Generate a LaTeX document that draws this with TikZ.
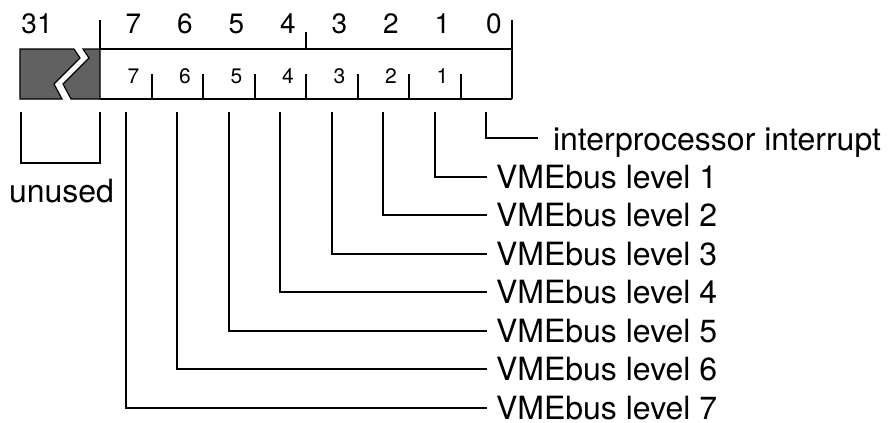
\documentclass[tikz,border=0pt]{standalone}
\usepackage{fontspec}
\setmainfont{TeX Gyre Heros}
\begin{document}
\begin{tikzpicture}[x=1pt,y=-1pt,line width=2pt,
  biglabel/.style={font=\fontsize{32}{32}\selectfont, inner sep=0pt, anchor=base west},
  toplabel/.style={font=\fontsize{28}{28}\selectfont, inner sep=0pt, anchor=base},
  innerlabel/.style={font=\fontsize{21}{21}\selectfont, inner sep=0pt, anchor=base},
  hatch/.style={fill=black!62, draw=black, line width=1.2pt, line join=miter},
  wire/.style={line width=2pt, line join=miter}]
\useasboundingbox (0,0) rectangle (889,423);
% hatched (unused) part with break
\path[hatch] (20,49) -- (74,49) -- (80,58) -- (54,84) -- (62,99) -- (20,99) -- cycle;
\path[hatch] (83,49) -- (100,49) -- (100,99) -- (71,99) -- (63,84) -- (89,58) -- cycle;
% register box
\draw[wire] (100,20) -- (100,49) -- (512,49);
\draw[wire] (100,99) -- (512,99);
\draw[wire] (512,20) -- (512,99);
\draw[wire] (306,32) -- (306,49);
\foreach \i in {1,...,7} {
  \draw[wire] ({100+51.5*\i},74) -- ({100+51.5*\i},99);
}
% top labels
\node[toplabel] (t31) at (37,33) {31};
\foreach \k in {0,...,7} {
  \node[toplabel] (t\k) at ({512-51.5*\k-18},33) {\k};
}
% inner labels
\foreach \k in {1,...,7} {
  \node[innerlabel] (i\k) at ({512-51.5*\k-18},83) {\k};
}
% unused bracket
\coordinate (ua) at (21,112);
\coordinate (ub) at (100,112);
\draw[wire] (ua) -- (21,163) -- (100,163) -- (ub);
\node[font=\fontsize{32}{32}\selectfont, inner sep=0pt, anchor=base] (unused) at (61.5,202) {unused};
% bit connectors and labels
\foreach \k in {0,...,7} {
  \coordinate (b\k) at ({512-51.5*\k-25.75},112);
}
\coordinate (c0) at (538,138);
\node[biglabel] (l0) at (552,150) {interprocessor interrupt};
\draw[wire] (b0) |- (c0);
\foreach \k in {1,...,7} {
  \coordinate (c\k) at (487,{138+38.5*\k});
  \node[biglabel] (l\k) at (495,{149.5+38.5*\k}) {VMEbus level \k};
  \draw[wire] (b\k) |- (c\k);
}
\end{tikzpicture}
\end{document}
